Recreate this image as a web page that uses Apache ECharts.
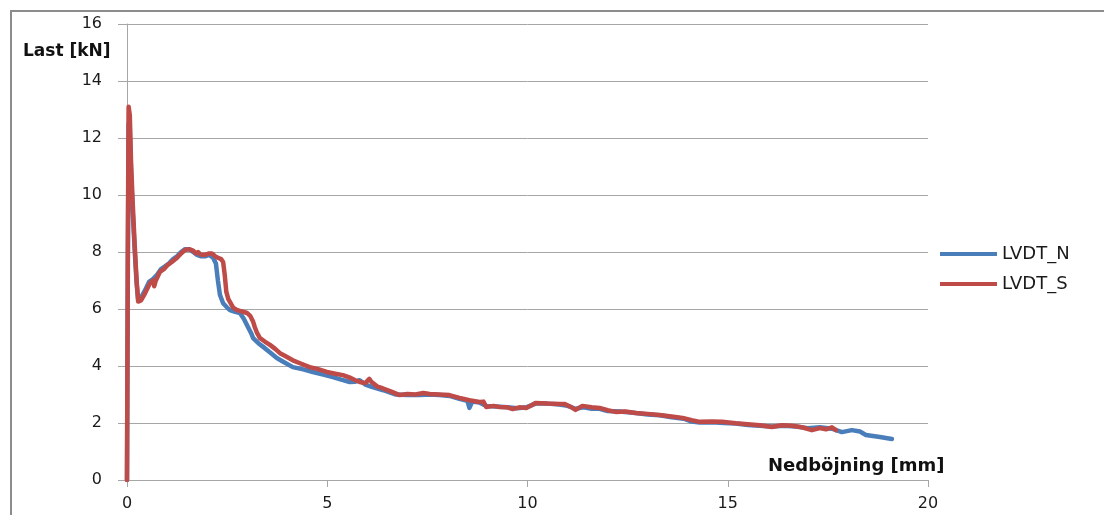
<!DOCTYPE html>
<html>
<head>
<meta charset="utf-8">
<script src="https://cdn.jsdelivr.net/npm/echarts@6/dist/echarts.min.js"></script>
<style>
html,body{margin:0;padding:0;background:#fff;}
#chart{width:1104px;height:515px;}
</style>
</head>
<body>
<div id="chart"></div>
<script>
// Tick settings
const xTicks = { min: 0, max: 20, interval: 5 };
const yTicks = { min: 0, max: 16, interval: 2 };
const seriesNames = ['LVDT_N', 'LVDT_S'];
const xAxisTitle = 'Nedböjning [mm]';
const yAxisTitle = 'Last [kN]';

// LVDT_N: [deflection mm, load kN]
const lvdtN = [[0,0],[0.02,7],[0.04,12.5],[0.07,12.3],[0.1,10.8],[0.14,9.5],[0.19,8.1],[0.24,6.9],[0.28,6.3],[0.35,6.4],[0.45,6.65],[0.55,6.95],[0.65,7.05],[0.75,7.2],[0.85,7.4],[0.95,7.5],[1.05,7.6],[1.15,7.75],[1.25,7.85],[1.35,8.0],[1.45,8.1],[1.55,8.1],[1.65,8.0],[1.75,7.9],[1.85,7.85],[1.95,7.85],[2.05,7.9],[2.15,7.8],[2.22,7.6],[2.27,7.0],[2.32,6.5],[2.4,6.2],[2.5,6.05],[2.57,5.96],[2.7,5.9],[2.82,5.86],[2.92,5.65],[3.02,5.37],[3.1,5.15],[3.15,4.98],[3.28,4.8],[3.4,4.67],[3.55,4.5],[3.74,4.28],[3.9,4.15],[4.14,3.96],[4.4,3.88],[4.64,3.79],[4.9,3.7],[5.14,3.61],[5.35,3.52],[5.56,3.44],[5.7,3.45],[5.81,3.5],[5.95,3.35],[6.13,3.26],[6.4,3.15],[6.7,3.0],[7.0,2.98],[7.3,2.98],[7.56,3.0],[7.8,2.98],[8.05,2.95],[8.3,2.85],[8.5,2.78],[8.55,2.53],[8.62,2.75],[8.8,2.72],[8.97,2.6],[9.2,2.58],[9.5,2.55],[9.75,2.52],[9.97,2.55],[10.2,2.68],[10.5,2.68],[10.8,2.65],[11.0,2.6],[11.2,2.5],[11.4,2.55],[11.6,2.5],[11.8,2.5],[12.0,2.42],[12.3,2.4],[12.7,2.35],[13.0,2.3],[13.3,2.27],[13.6,2.2],[13.9,2.15],[14.1,2.05],[14.3,2.02],[14.6,2.03],[14.9,2.0],[15.2,1.98],[15.5,1.93],[15.8,1.9],[16.1,1.88],[16.4,1.9],[16.7,1.88],[17.0,1.82],[17.3,1.85],[17.6,1.8],[17.85,1.68],[18.1,1.75],[18.3,1.7],[18.45,1.58],[18.8,1.51],[19.1,1.44]];

// LVDT_S: [deflection mm, load kN]
const lvdtS = [[0,0],[0.02,8],[0.04,13.1],[0.07,12.8],[0.1,11.2],[0.14,9.8],[0.19,8.3],[0.24,7.0],[0.28,6.26],[0.35,6.3],[0.45,6.55],[0.52,6.75],[0.57,6.9],[0.65,7.0],[0.68,6.8],[0.72,7.0],[0.82,7.3],[0.92,7.4],[1.02,7.55],[1.12,7.65],[1.25,7.8],[1.35,7.95],[1.45,8.07],[1.55,8.1],[1.65,8.05],[1.72,7.95],[1.77,8.0],[1.85,7.9],[1.95,7.9],[2.05,7.95],[2.12,7.95],[2.2,7.85],[2.27,7.8],[2.35,7.75],[2.4,7.65],[2.44,7.2],[2.48,6.6],[2.53,6.35],[2.57,6.25],[2.65,6.05],[2.74,5.97],[2.85,5.92],[3.0,5.86],[3.08,5.75],[3.15,5.55],[3.19,5.37],[3.25,5.15],[3.32,4.98],[3.45,4.85],[3.57,4.74],[3.7,4.6],[3.82,4.45],[3.95,4.35],[4.14,4.2],[4.35,4.08],[4.56,3.96],[4.75,3.9],[4.99,3.79],[5.2,3.73],[5.39,3.68],[5.55,3.6],[5.7,3.5],[5.81,3.44],[5.95,3.4],[6.05,3.55],[6.1,3.45],[6.25,3.28],[6.38,3.22],[6.6,3.1],[6.81,2.98],[7.0,3.02],[7.2,3.0],[7.4,3.05],[7.56,3.02],[7.8,3.0],[8.05,2.98],[8.3,2.88],[8.55,2.8],[8.8,2.74],[8.9,2.75],[8.97,2.56],[9.15,2.6],[9.3,2.56],[9.5,2.55],[9.63,2.49],[9.8,2.55],[9.97,2.53],[10.1,2.62],[10.2,2.7],[10.5,2.68],[10.8,2.67],[10.92,2.67],[11.1,2.55],[11.2,2.46],[11.37,2.6],[11.6,2.55],[11.8,2.53],[12.0,2.45],[12.2,2.39],[12.45,2.4],[12.7,2.35],[13.0,2.32],[13.3,2.28],[13.6,2.23],[13.87,2.18],[14.1,2.1],[14.3,2.04],[14.6,2.05],[14.86,2.04],[15.2,1.99],[15.5,1.96],[15.8,1.92],[16.1,1.86],[16.35,1.92],[16.6,1.9],[16.85,1.85],[17.1,1.75],[17.3,1.82],[17.45,1.78],[17.6,1.85],[17.7,1.75]];

const chart = echarts.init(document.getElementById('chart'), null, { renderer: 'canvas' });
const gridColor = '#a6a6a6';
const font = 'DejaVu Sans';
const blue = '#4a7ebb';
const red = '#be4b48';

chart.setOption({
  animation: false,
  backgroundColor: '#ffffff',
  grid: { left: 127, right: 176, top: 24, bottom: 35, containLabel: false },
  xAxis: {
    type: 'value', min: xTicks.min, max: xTicks.max, interval: xTicks.interval,
    axisLine: { show: true, lineStyle: { color: gridColor, width: 1 } },
    axisTick: { show: true, length: 7, lineStyle: { color: gridColor } },
    splitLine: { show: false },
    axisLabel: { fontFamily: font, fontSize: 16, color: '#1a1a1a', margin: 16 }
  },
  yAxis: {
    type: 'value', min: yTicks.min, max: yTicks.max, interval: yTicks.interval,
    axisLine: { show: true, lineStyle: { color: gridColor, width: 1 } },
    axisTick: { show: true, length: 9, lineStyle: { color: gridColor } },
    splitLine: { show: true, lineStyle: { color: gridColor, width: 1 } },
    axisLabel: { fontFamily: font, fontSize: 16, color: '#1a1a1a', margin: 25 }
  },
  legend: {
    orient: 'vertical', left: 935, top: 240,
    icon: 'rect', itemWidth: 57, itemHeight: 4, itemGap: 12,
    textStyle: { fontFamily: font, fontSize: 18, color: '#1a1a1a' },
    data: [
      { name: seriesNames[0], itemStyle: { color: blue } },
      { name: seriesNames[1], itemStyle: { color: red } }
    ]
  },
  graphic: [
    { type: 'rect', silent: true, z: -1, shape: { x: 11, y: 11, width: 1200, height: 600 },
      style: { fill: null, stroke: '#8c8c8c', lineWidth: 2 } },
    { type: 'text', left: 23, top: 43, style: { text: yAxisTitle, font: 'bold 17px "DejaVu Sans"', fill: '#111' } },
    { type: 'text', left: 768, top: 457, style: { text: xAxisTitle, font: 'bold 18px "DejaVu Sans"', fill: '#111' } }
  ],
  series: [
    { name: seriesNames[0], type: 'line', data: lvdtN, showSymbol: false, symbol: 'none',
      lineStyle: { color: blue, width: 4.5, cap: 'round', join: 'round' }, itemStyle: { color: blue } },
    { name: seriesNames[1], type: 'line', data: lvdtS, showSymbol: false, symbol: 'none',
      lineStyle: { color: red, width: 4.5, cap: 'round', join: 'round' }, itemStyle: { color: red } }
  ]
});
</script>
</body>
</html>
